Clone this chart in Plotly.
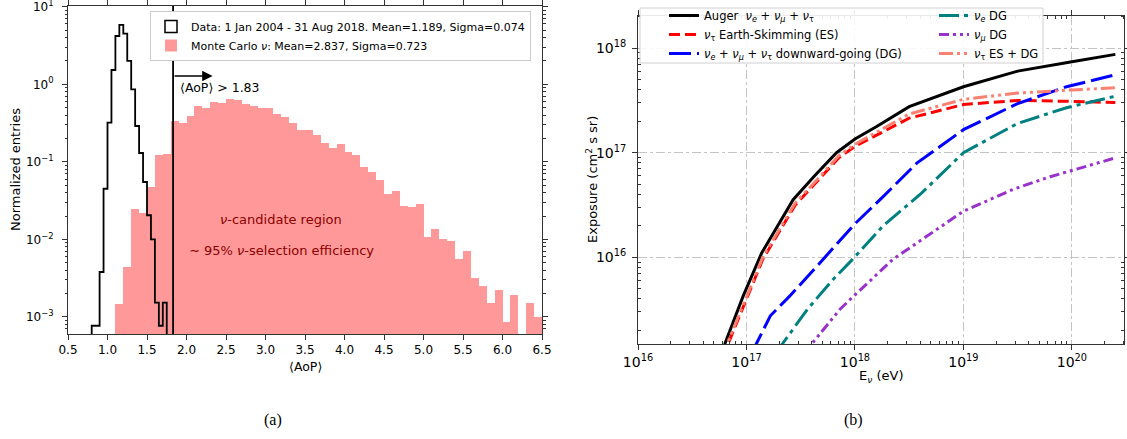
import numpy as np
import plotly.graph_objects as go

W, H = 1127, 439

# ---------------- Panel (a) data ----------------
data_edge_start = 0.80
data_bin_width = 0.05
data_values = [7.7e-4, 7.7e-4, 0.0038, 0.045, 0.32, 1.53, 4.2, 5.85, 4.5, 2.0,
               0.86, 0.29, 0.13, 0.055, 0.0205, 0.010, 0.00153, 0.00077, 0.00153]

mc_edge_start = 1.10
mc_bin_width = 0.10
mc_values = [0.00147, 0.0044, 0.025, 0.0216, 0.048, 0.123, 0.128, 0.34, 0.315, 0.39,
             0.53, 0.49, 0.60, 0.57, 0.64, 0.62, 0.56, 0.53, 0.49, 0.50,
             0.42, 0.38, 0.315, 0.26, 0.26, 0.22, 0.174, 0.15, 0.17, 0.134,
             0.122, 0.087, 0.074, 0.058, 0.038, 0.042, 0.027, 0.026, 0.029, 0.0107,
             0.0138, 0.0100, 0.0095, 0.0056, 0.0071, 0.0032, 0.0025, 0.0015, 0.0022, 0.00085,
             0.0019, None, 0.0015, 0.0010]

aop_cut = 1.83
arrow_end = 2.33
arrow_level = 1.28

data_label = "Data: 1 Jan 2004 - 31 Aug 2018. Mean=1.189, Sigma=0.074"
mc_label = "Monte Carlo <i>ν</i>: Mean=2.837, Sigma=0.723"

x_ticks_a = [0.5, 1.0, 1.5, 2.0, 2.5, 3.0, 3.5, 4.0, 4.5, 5.0, 5.5, 6.0, 6.5]
y_exps_a = [-3, -2, -1, 0, 1]

# ---------------- Panel (b) data (log10 E, log10 exposure) ----------------
auger_logE = [16.75, 16.8, 16.97, 17.14, 17.43, 17.62, 17.83, 18.0, 18.2, 18.5, 19.0, 19.5, 20.0, 20.4]
auger_logX = [15.05, 15.17, 15.63, 16.04, 16.55, 16.77, 17.0, 17.13, 17.25, 17.44, 17.63, 17.78, 17.87, 17.94]

es_logE = [16.78, 16.83, 17.0, 17.15, 17.45, 17.65, 17.85, 18.0, 18.5, 19.0, 19.5, 20.0, 20.4]
es_logX = [15.05, 15.17, 15.6, 15.98, 16.5, 16.72, 16.95, 17.06, 17.33, 17.46, 17.50, 17.49, 17.48]

dg_logE = [17.05, 17.09, 17.22, 17.4, 17.62, 17.89, 18.0, 18.26, 18.57, 19.0, 19.5, 19.95, 20.4]
dg_logX = [15.08, 15.17, 15.44, 15.63, 15.88, 16.20, 16.32, 16.58, 16.90, 17.22, 17.47, 17.63, 17.745]

nue_logE = [17.27, 17.33, 17.56, 17.8, 17.96, 18.26, 18.6, 19.0, 19.5, 19.95, 20.4]
nue_logX = [15.08, 15.17, 15.50, 15.79, 15.96, 16.30, 16.6, 17.0, 17.28, 17.43, 17.54]

numu_logE = [17.53, 17.6, 17.86, 17.96, 18.35, 19.0, 19.46, 19.8, 20.4]
numu_logX = [15.08, 15.17, 15.5, 15.6, 15.98, 16.44, 16.65, 16.77, 16.95]

nutau_logE = [16.77, 16.82, 17.0, 17.15, 17.45, 17.65, 17.85, 18.0, 18.5, 19.0, 19.5, 20.0, 20.4]
nutau_logX = [15.04, 15.17, 15.62, 16.0, 16.52, 16.74, 16.97, 17.08, 17.37, 17.51, 17.57, 17.60, 17.62]

x_exps_b = [16, 17, 18, 19, 20]
y_exps_b = [16, 17, 18]

# ---------------- helpers ----------------
def px(x):
    return x / W

def py(y):
    return 1 - y / H

def sup(e):
    s = str(e).replace("-", "−")
    return f"10<sup>{s}</sup>"

FONT = "DejaVu Sans"

fig = go.Figure()

# ---- panel a traces ----
# legend-only swatch for the data step histogram
fig.add_trace(go.Bar(x=[None], y=[None], name=data_label, xaxis="x", yaxis="y",
                     marker=dict(color="white", line=dict(color="black", width=1.5)),
                     legend="legend"))

mc_centers = [mc_edge_start + mc_bin_width * (i + 0.5) for i in range(len(mc_values))]
fig.add_trace(go.Bar(x=mc_centers, y=mc_values, width=mc_bin_width, name=mc_label,
                     xaxis="x", yaxis="y", legend="legend",
                     marker=dict(color="rgba(255,0,0,0.4)", line=dict(width=0))))

n = len(data_values)
edges = [data_edge_start + data_bin_width * i for i in range(n + 1)]
floor = 1e-6
step_x = [edges[0]] + edges[:n] + [edges[n]]
step_y = [floor] + data_values + [floor]
fig.add_trace(go.Scatter(x=step_x, y=step_y, mode="lines", line=dict(color="black", width=1.8, shape="hv"),
                         xaxis="x", yaxis="y", showlegend=False, hoverinfo="skip"))

# ---- panel b traces ----
def curve(logE, logX, name, color, dash, legend):
    fig.add_trace(go.Scatter(x=[10 ** v for v in logE], y=[10 ** v for v in logX], mode="lines",
                             name=name, xaxis="x2", yaxis="y2", legend=legend,
                             line=dict(color=color, width=3, dash=dash)))

nu = "<i>ν</i>"
curve(auger_logE, auger_logX, f"Auger  {nu}<sub><i>e</i></sub> + {nu}<sub><i>μ</i></sub> + {nu}<sub>τ</sub>",
      "black", "solid", "legend2")
curve(es_logE, es_logX, f"{nu}<sub>τ</sub> Earth-Skimming (ES)", "#ff0000", "11px,5px", "legend2")
curve(dg_logE, dg_logX, f"{nu}<sub><i>e</i></sub> + {nu}<sub><i>μ</i></sub> + {nu}<sub>τ</sub> downward-going (DG)",
      "#0000ff", "22px,6px", "legend2")
curve(nue_logE, nue_logX, f"{nu}<sub><i>e</i></sub> DG", "#008080", "20px,5px,4px,5px", "legend3")
curve(numu_logE, numu_logX, f"{nu}<sub><i>μ</i></sub> DG", "#9932cc", "10px,4px,3px,4px,3px,4px", "legend3")
curve(nutau_logE, nutau_logX, f"{nu}<sub>τ</sub> ES + DG", "#fa8072", "14px,4px,3px,4px,3px,4px", "legend3")

# ---- axes ----
axis_common = dict(showline=True, linecolor="#333333", linewidth=1, mirror="ticks",
                   ticks="outside", ticklen=5, tickcolor="#333333", zeroline=False,
                   ticklabeloverflow="allow")

minor_a = [k * 10.0 ** e for e in range(-4, 1) for k in range(2, 10)]
fig.update_layout(
    xaxis=dict(domain=[px(68), px(542)], range=[0.5, 6.5], anchor="y",
               tickvals=x_ticks_a, ticktext=[f"{v:.1f}" for v in x_ticks_a],
               tickfont=dict(family=FONT, size=12, color="black"), showgrid=False, **axis_common),
    yaxis=dict(domain=[py(334), py(6)], type="log", range=[-3.22, 1.01], anchor="x",
               tickvals=[10.0 ** e for e in y_exps_a], ticktext=[sup(e) for e in y_exps_a],
               tickfont=dict(family=FONT, size=12, color="black"), showgrid=False,
               ticklabelstandoff=6,
               minor=dict(tickvals=minor_a, ticks="outside", ticklen=2.5, tickcolor="#333333", showgrid=False),
               **axis_common),
)

minor_bx = [k * 10.0 ** e for e in range(16, 21) for k in range(2, 10)]
minor_by = [k * 10.0 ** e for e in range(15, 19) for k in range(2, 10)]
grid_b = dict(showgrid=True, gridcolor="#c4c4c4", gridwidth=1, griddash="dashdot")
fig.update_layout(
    xaxis2=dict(domain=[px(638), px(1124)], type="log", range=[16, 20.48], anchor="y2",
                tickvals=[10.0 ** e for e in x_exps_b], ticktext=[sup(e) for e in x_exps_b],
                tickfont=dict(family=FONT, size=14, color="black"),
                minor=dict(tickvals=minor_bx, ticks="inside", ticklen=3, tickcolor="#333333", showgrid=False),
                **grid_b, **axis_common),
    yaxis2=dict(domain=[py(344), py(15.7)], type="log", range=[15.17, 18.31], anchor="x2",
                tickvals=[10.0 ** e for e in y_exps_b], ticktext=[sup(e) for e in y_exps_b],
                tickfont=dict(family=FONT, size=14, color="black"),
                ticklabelstandoff=3,
                minor=dict(tickvals=minor_by, ticks="inside", ticklen=3, tickcolor="#333333", showgrid=False),
                **grid_b, **axis_common),
)

# ---- shapes ----
fig.add_shape(type="line", xref="x", yref="y domain", x0=aop_cut, x1=aop_cut, y0=0, y1=1,
              line=dict(color="black", width=1.8), layer="above")
fig.add_shape(type="rect", xref="paper", yref="paper", x0=px(640), x1=px(1043), y0=py(63), y1=py(8),
              fillcolor="rgba(255,255,255,0.9)", line=dict(color="#d0d0d0", width=1), layer="above")

# ---- annotations ----
ann = []
ann.append(dict(x=arrow_end, y=np.log10(arrow_level), ax=aop_cut, ay=np.log10(arrow_level),
                xref="x", yref="y", axref="x", ayref="y", text="", showarrow=True,
                arrowhead=2, arrowsize=1.3, arrowwidth=1.6, arrowcolor="black"))
ann.append(dict(x=aop_cut + 0.06, y=np.log10(0.9), xref="x", yref="y", xanchor="left", yanchor="middle",
                text="⟨AoP⟩ > 1.83", showarrow=False, font=dict(family=FONT, size=12.5, color="black")))
ann.append(dict(x=3.2, y=np.log10(0.018), xref="x", yref="y", xanchor="center", yanchor="middle",
                text="<i>ν</i>-candidate region", showarrow=False,
                font=dict(family=FONT, size=13, color="#8b0000")))
ann.append(dict(x=3.2, y=np.log10(0.0071), xref="x", yref="y", xanchor="center", yanchor="middle",
                text="∼ 95% <i>ν</i>-selection efficiency", showarrow=False,
                font=dict(family=FONT, size=13, color="#8b0000")))

def paper_text(x, y, text, size, family=FONT, angle=0):
    ann.append(dict(x=px(x), y=py(y), xref="paper", yref="paper", text=text, textangle=angle,
                    xanchor="center", yanchor="middle", showarrow=False,
                    font=dict(family=family, size=size, color="black")))

# axis titles
paper_text(15, 170, "Normalized entries", 13, angle=-90)
paper_text(305, 366, "⟨AoP⟩", 12.5)
paper_text(592, 180, "Exposure (cm<sup>2</sup> s sr)", 13, angle=-90)
paper_text(881, 376, "E<sub><i>ν</i></sub> (eV)", 13)
# captions
paper_text(273, 420, "(a)", 16, family="Liberation Serif")
paper_text(853, 420, "(b)", 16, family="Liberation Serif")

leg_font = dict(family=FONT, size=11.5, color="black")
fig.update_layout(
    width=W, height=H, margin=dict(l=0, r=0, t=0, b=0, autoexpand=False),
    paper_bgcolor="white", plot_bgcolor="white",
    barmode="overlay", bargap=0,
    annotations=ann,
    legend=dict(x=px(150), y=py(11), xanchor="left", yanchor="top", bgcolor="white",
                bordercolor="#cccccc", borderwidth=1, font=dict(family=FONT, size=11, color="black"),
                tracegroupgap=0),
    legend2=dict(x=px(664), y=py(1), xanchor="left", yanchor="top", bgcolor="rgba(0,0,0,0)",
                 borderwidth=0, font=leg_font),
    legend3=dict(x=px(934), y=py(1), xanchor="left", yanchor="top", bgcolor="rgba(0,0,0,0)",
                 borderwidth=0, font=leg_font),
    showlegend=True,
)

fig.write_html("out.html", config={"displayModeBar": False},
               post_script="document.body.style.margin='0px';document.body.style.overflow='hidden';")
